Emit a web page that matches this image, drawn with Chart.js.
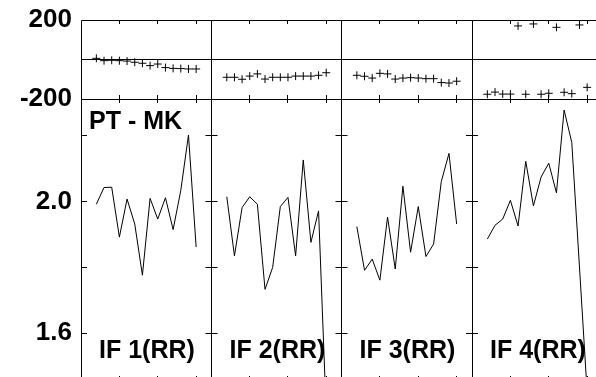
<!DOCTYPE html>
<html><head><meta charset="utf-8">
<script src="https://cdn.jsdelivr.net/npm/chart.js@4/dist/chart.umd.min.js"></script>
<style>
html,body{margin:0;padding:0;background:#fff;overflow:hidden;width:596px;height:377px;}
#wrap{position:relative;width:596px;height:377px;overflow:hidden;background:#fff;}
canvas{position:absolute;left:0;top:0;}
</style></head><body><div id="wrap"></div>
<script>
// ---- data ----
const categories = ['IF 1(RR)', 'IF 2(RR)', 'IF 3(RR)', 'IF 4(RR)'];
const rowTitle = 'PT - MK';
const xValues = [2, 3, 4, 5, 6, 7, 8, 9, 10, 11, 12, 13, 14, 15];
const xTicks = [5, 10, 15];
const topTickValues = [-200, 200];
const topTickLabels = ['-200', '200'];
const bottomTickValues = [1.6, 1.8, 2.0, 2.2];
const bottomTickLabels = ['1.6', '', '2.0', ''];

const ptMk1 = [6, -6, -4, -6, -8, -14, -19, -31, -23, -41, -45, -46, -48, -48];
const ptMk2 = [-90, -90, -100, -84, -73, -99, -90, -90, -90, -84, -84, -84, -80, -67];
const ptMk3 = [-80, -85, -94, -70, -73, -99, -94, -92, -94, -97, -97, -117, -119, -110];
const ptMk4 = [-176, -165, -175, -175, 170, -176, 180, -176, -171, 163, -166, -173, 175, -141];

const rr1 = [1.992, 2.043, 2.044, 1.892, 2.008, 1.932, 1.776, 2.010, 1.947, 2.012, 1.915, 2.034, 2.203, 1.862];
const rr2 = [2.015, 1.835, 1.982, 2.015, 1.992, 1.733, 1.800, 1.985, 2.013, 1.835, 2.127, 1.876, 1.972, 1.36];
const rr3 = [1.924, 1.791, 1.825, 1.761, 1.953, 1.795, 2.047, 1.846, 1.985, 1.833, 1.871, 2.061, 2.147, 1.932];
const rr4 = [1.886, 1.928, 1.947, 2.004, 1.926, 2.123, 1.987, 2.075, 2.117, 2.027, 2.279, 2.180, 1.801, 1.42];

const ptMkSeries = [ptMk1, ptMk2, ptMk3, ptMk4];
const rrSeries = [rr1, rr2, rr3, rr4];

// ---- layout ----
const CW = 610, CH = 400;
const panelEdges = [81, 211.5, 341.5, 472, 602.5];
const rows = { top: [20, 99], bottom: [99, 380] };
const FONT = '"Liberation Sans", Arial, Helvetica, sans-serif';
const wrap = document.getElementById('wrap');
const crisp = v => Math.floor(v) + 0.5;

function framePlugin(row, p) {
  return {
    id: 'frame' + row + p,
    afterDraw(chart) {
      const ctx = chart.ctx, a = chart.chartArea;
      const xs = chart.scales.x, ys = chart.scales.y;
      ctx.save();
      ctx.strokeStyle = '#000';
      ctx.lineWidth = 1;
      ctx.beginPath();
      ctx.rect(crisp(a.left), crisp(a.top), crisp(a.right) - crisp(a.left), crisp(a.bottom) - crisp(a.top));
      xTicks.forEach(v => {
        const px = crisp(xs.getPixelForValue(v));
        ctx.moveTo(px, a.top); ctx.lineTo(px, a.top + 4);
        ctx.moveTo(px, a.bottom); ctx.lineTo(px, a.bottom - 4);
      });
      if (row === 'top') {
        const z = crisp(ys.getPixelForValue(0));
        ctx.moveTo(a.left, z); ctx.lineTo(a.right, z);
      } else {
        bottomTickValues.forEach(v => {
          const py = crisp(ys.getPixelForValue(v));
          ctx.moveTo(a.left, py); ctx.lineTo(a.left + 6, py);
          ctx.moveTo(a.right, py); ctx.lineTo(a.right - 6, py);
        });
      }
      ctx.stroke();
      if (row === 'bottom') {
        ctx.fillStyle = '#000';
        ctx.font = 'bold 25px ' + FONT;
        ctx.textBaseline = 'alphabetic';
        ctx.textAlign = 'left';
        if (p === 0) ctx.fillText(rowTitle, a.left + 8, a.top + 30);
        ctx.fillText(categories[p], a.left + 18, 358);
      }
      ctx.restore();
    }
  };
}

function makeChart(row, p) {
  const c = document.createElement('canvas');
  c.width = CW; c.height = CH;
  c.style.width = CW + 'px'; c.style.height = CH + 'px';
  wrap.appendChild(c);
  const [T, B] = rows[row];
  const L = panelEdges[p], R = panelEdges[p + 1];
  const isTop = row === 'top';
  const first = p === 0;
  const vals = isTop ? ptMkSeries[p] : rrSeries[p];
  const tickVals = isTop ? topTickValues : bottomTickValues;
  const tickLabs = isTop ? topTickLabels : bottomTickLabels;
  const ds = isTop ? {
    data: xValues.map((x, i) => ({ x, y: vals[i] })),
    showLine: false, pointStyle: 'cross', pointRadius: 4, pointBorderWidth: 1,
    borderColor: '#000', backgroundColor: '#000', clip: false
  } : {
    data: xValues.map((x, i) => ({ x, y: vals[i] })),
    showLine: true, pointRadius: 0, borderWidth: 1, borderColor: '#000',
    tension: 0, fill: false, clip: false
  };
  return new Chart(c, {
    type: 'scatter',
    data: { datasets: [ds] },
    options: {
      responsive: false, animation: false, devicePixelRatio: 1,
      events: [],
      layout: { padding: { left: first ? 0 : L, top: T, right: CW - R, bottom: CH - B } },
      plugins: { legend: { display: false }, tooltip: { enabled: false } },
      scales: {
        x: {
          type: 'linear', min: 0, max: 17, bounds: 'data',
          grid: { display: false, drawTicks: false }, border: { display: false },
          ticks: { display: false },
          afterFit: s => { s.height = 0; s.paddingLeft = 0; s.paddingRight = 0; }
        },
        y: {
          type: 'linear', bounds: 'data',
          min: isTop ? -200 : 1.457, max: isTop ? 200 : 2.3126,
          grid: { display: false, drawTicks: false }, border: { display: false },
          ticks: {
            display: first, autoSkip: false, padding: 9, color: '#000',
            font: { family: FONT, size: 26, weight: 'bold' },
            callback: (v, i) => tickLabs[i]
          },
          afterBuildTicks: s => { s.ticks = tickVals.map(v => ({ value: v })); },
          afterFit: s => { s.width = first ? L : 0; s.paddingTop = 0; s.paddingBottom = 0; }
        }
      }
    },
    plugins: [framePlugin(row, p)]
  });
}

for (let p = 0; p < 4; p++) { makeChart('top', p); makeChart('bottom', p); }
</script></body></html>
